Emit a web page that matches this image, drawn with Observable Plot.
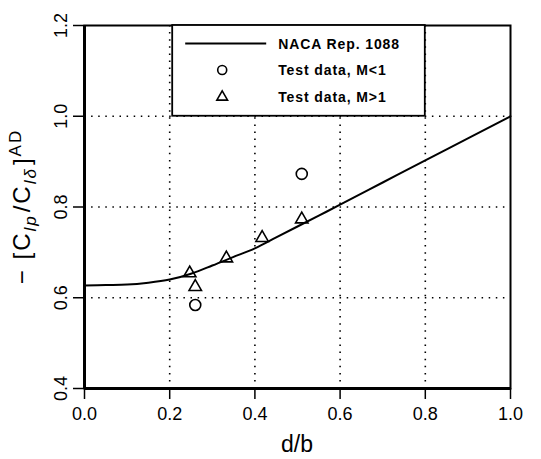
<!DOCTYPE html>
<html>
<head>
<meta charset="utf-8">
<script src="https://cdn.jsdelivr.net/npm/d3@7"></script>
<script src="https://cdn.jsdelivr.net/npm/@observablehq/plot@0.6"></script>
<style>
  html, body { margin: 0; padding: 0; background: #fff; }
  #chart { position: relative; width: 541px; height: 459px; }
</style>
</head>
<body>
<div id="chart"></div>
<script>
// NACA Rep. 1088 curve
const nacaX = [0, 0.05, 0.1, 0.15, 0.2, 0.25, 0.3, 0.35, 0.4, 0.45, 0.5, 0.55, 0.6, 0.7, 0.8, 0.9, 1.0];
const nacaY = [0.627, 0.628, 0.629, 0.633, 0.640, 0.653, 0.671, 0.690, 0.709, 0.733, 0.757, 0.781, 0.805, 0.854, 0.903, 0.951, 1.000];
// Test data, M<1 (circles)
const subX = [0.26, 0.51];
const subY = [0.584, 0.873];
// Test data, M>1 (triangles)
const supX = [0.247, 0.26, 0.333, 0.417, 0.51];
const supY = [0.654, 0.624, 0.687, 0.732, 0.773];
// ticks
const xTicks = [0, 0.2, 0.4, 0.6, 0.8, 1.0];
const yTicks = [0.4, 0.6, 0.8, 1.0, 1.2];
const xGrid = [0.2, 0.4, 0.6, 0.8];
const yGrid = [0.6, 0.8, 1.0];
const legendLabels = ["NACA Rep. 1088", "Test data, M<1", "Test data, M>1"];

const naca = nacaX.map((x, i) => ({x, y: nacaY[i]}));
const sub = subX.map((x, i) => ({x, y: subY[i]}));
const sup = supX.map((x, i) => ({x, y: supY[i]}));

const font = "'Liberation Sans', Arial, sans-serif";
const dots = "1.5,5.6";

const plot = Plot.plot({
  width: 541,
  height: 459,
  marginLeft: 84,
  marginRight: 31,
  marginTop: 25,
  marginBottom: 71,
  style: {fontFamily: font, background: "#fff", color: "#000", overflow: "visible"},
  x: {domain: [0, 1]},
  y: {domain: [0.4, 1.2]},
  marks: [
    Plot.gridX(xGrid, {stroke: "#000", strokeOpacity: 1, strokeWidth: 1.6, strokeDasharray: dots}),
    Plot.gridY(yGrid, {stroke: "#000", strokeOpacity: 1, strokeWidth: 1.6, strokeDasharray: dots}),
    Plot.frame({stroke: "#000", strokeWidth: 2}),
    Plot.ruleX([0], {stroke: "#000", strokeWidth: 3}),
    Plot.ruleY([0.4], {stroke: "#000", strokeWidth: 3}),
    Plot.axisX(xTicks, {tickSize: 11, tickPadding: 8, fontSize: 18, tickFormat: d3.format(".1f"), label: null, strokeWidth: 1.5}),
    Plot.axisY(yTicks, {tickSize: 11, tickFormat: () => "", label: null, strokeWidth: 1.5}),
    Plot.text(yTicks, {y: d => d, text: d3.format(".1f"), frameAnchor: "left", dx: -23, rotate: -90, fontSize: 18, textAnchor: "middle", lineAnchor: "middle", fill: "#000"}),
    Plot.line(naca, {x: "x", y: "y", curve: "monotone-x", stroke: "#000", strokeWidth: 2}),
    Plot.dot(sub, {x: "x", y: "y", symbol: "circle", r: 5.5, stroke: "#000", strokeWidth: 1.6, fill: "#fff"}),
    Plot.dot(sup, {x: "x", y: "y", symbol: "triangle", r: 4.6, stroke: "#000", strokeWidth: 1.6, fill: "none"})
  ]
});

document.getElementById("chart").appendChild(plot);

const svg = d3.select(plot);
const sx = plot.scale("x"), sy = plot.scale("y");

// Legend box (positioned on plot scales)
const lx0 = sx.apply(0.2) + 3, lx1 = sx.apply(0.8);
const ly0 = sy.apply(1.2), ly1 = sy.apply(1.0);
const lg = svg.append("g").attr("text-anchor", "start");
lg.append("rect").attr("x", lx0).attr("y", ly0).attr("width", lx1 - lx0).attr("height", ly1 - ly0)
  .attr("fill", "#fff").attr("stroke", "#000").attr("stroke-width", 1.8);
const rowY = [ly0 + 18.5, ly0 + 45, ly0 + 72];
lg.append("line").attr("x1", lx0 + 13).attr("x2", lx0 + 94).attr("y1", rowY[0]).attr("y2", rowY[0])
  .attr("stroke", "#000").attr("stroke-width", 2);
lg.append("circle").attr("cx", lx0 + 50).attr("cy", rowY[1]).attr("r", 4.5)
  .attr("fill", "none").attr("stroke", "#000").attr("stroke-width", 1.6);
lg.append("path").attr("d", d3.symbol(d3.symbolTriangle, 50)()).attr("transform", `translate(${lx0 + 50},${rowY[2]})`)
  .attr("fill", "none").attr("stroke", "#000").attr("stroke-width", 1.6);
legendLabels.forEach((t, i) => {
  lg.append("text").attr("x", lx0 + 106).attr("y", rowY[i] + 5).attr("text-anchor", "start").text(t)
    .attr("font-family", font).attr("font-size", 14).attr("font-weight", "bold").attr("letter-spacing", 0.9).attr("fill", "#000");
});

// x axis label
svg.append("text").attr("x", (sx.apply(0) + sx.apply(1)) / 2).attr("y", 452).attr("text-anchor", "middle")
  .attr("font-family", font).attr("font-size", 23).attr("fill", "#000").text("d/b");

// y axis label with sub/superscripts
const yl = svg.append("text").attr("transform", `translate(30,${(sy.apply(0.4) + sy.apply(1.2)) / 2}) rotate(-90)`)
  .attr("text-anchor", "middle").attr("font-family", font).attr("font-size", 24).attr("letter-spacing", 2).attr("fill", "#000");
yl.append("tspan").text("− [C");
yl.append("tspan").attr("font-size", 17).attr("font-style", "italic").attr("dy", 6).text("lp");
yl.append("tspan").attr("dy", -6).attr("dx", 2).text("/C");
yl.append("tspan").attr("font-size", 17).attr("font-style", "italic").attr("dy", 6).text("lδ");
yl.append("tspan").attr("dy", -6).attr("dx", 2).text("]");
yl.append("tspan").attr("font-size", 17).attr("dy", -9).text("AD");
</script>
</body>
</html>
